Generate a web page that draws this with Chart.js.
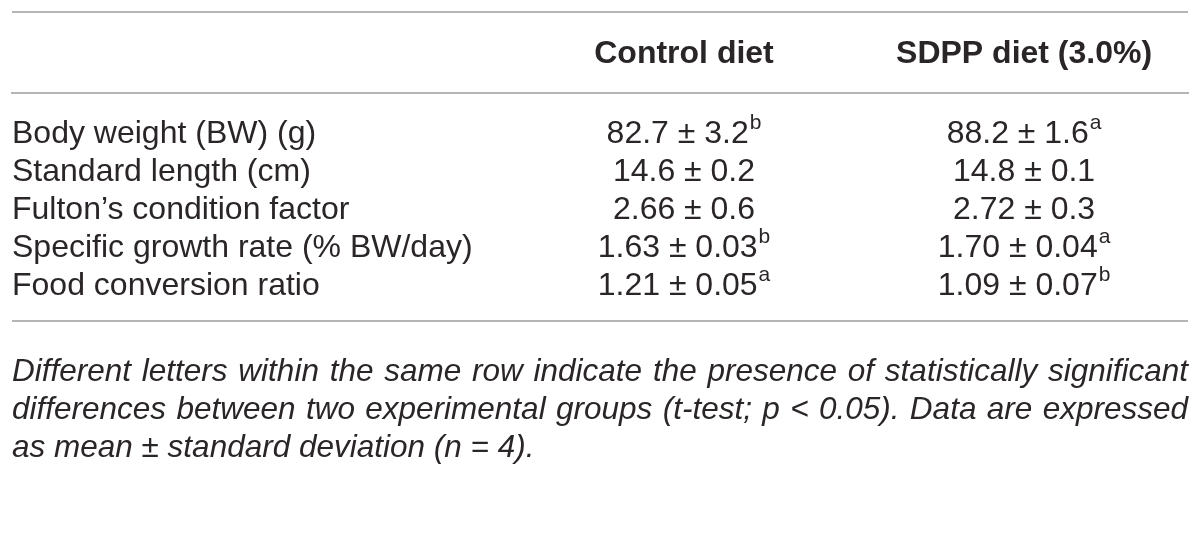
<!DOCTYPE html>
<html>
<head>
<meta charset="utf-8">
<title>Growth performance table</title>
<script src="https://cdn.jsdelivr.net/npm/chart.js@4/dist/chart.umd.min.js"></script>
<style>
    html, body { margin: 0; padding: 0; background: #ffffff; }
    #wrap { width: 1200px; height: 538px; position: relative; }
</style>
</head>
<body>
<div id="wrap"><canvas id="tableChart"></canvas></div>
<script>
// Données du tableau
const rowLabels = [
    'Body weight (BW) (g)',
    'Standard length (cm)',
    'Fulton\u2019s condition factor',
    'Specific growth rate (% BW/day)',
    'Food conversion ratio'
];
const groupLabels = ['Control diet', 'SDPP diet (3.0%)'];

const controlMean = [82.7, 14.6, 2.66, 1.63, 1.21];
const controlSd = [3.2, 0.2, 0.6, 0.03, 0.05];
const controlLetters = ['b', '', '', 'b', 'a'];

const sdppMean = [88.2, 14.8, 2.72, 1.70, 1.09];
const sdppSd = [1.6, 0.1, 0.3, 0.04, 0.07];
const sdppLetters = ['a', '', '', 'a', 'b'];

// nombre de décimales par ligne
const meanDecimals = [1, 1, 2, 2, 2];
const sdDecimals = [1, 1, 1, 2, 2];

const footnoteLines = [
    'Different letters within the same row indicate the presence of statistically significant',
    'differences between two experimental groups (t-test; p < 0.05). Data are expressed',
    'as mean \u00b1 standard deviation (n = 4).'
];

const TEXT_COLOR = '#2a2627';
const RULE_COLOR = '#b5b5b5';
const FONT = '"Liberation Sans", Arial, Helvetica, sans-serif';

function cellText(mean, sd, i) {
    return mean.toFixed(meanDecimals[i]) + ' \u00b1 ' + sd.toFixed(sdDecimals[i]);
}

function buildPoints(groupIndex) {
    return rowLabels.map((_, i) => ({ x: groupIndex + 1, y: i }));
}

// Plugin : texte des cellules, filets et note de bas de tableau
const tablePlugin = {
    id: 'tablePlugin',
    afterDatasetsDraw(chart) {
        const ctx = chart.ctx;
        const groups = [
            { mean: controlMean, sd: controlSd, letters: controlLetters },
            { mean: sdppMean, sd: sdppSd, letters: sdppLetters }
        ];
        ctx.save();
        ctx.fillStyle = TEXT_COLOR;
        ctx.textBaseline = 'middle';
        ctx.textAlign = 'left';
        groups.forEach((g, d) => {
            const meta = chart.getDatasetMeta(d);
            meta.data.forEach((pt, i) => {
                const main = cellText(g.mean[i], g.sd[i], i);
                const sup = g.letters[i];
                ctx.font = '32px ' + FONT;
                const wMain = ctx.measureText(main).width;
                ctx.font = '21px ' + FONT;
                const wSup = sup ? ctx.measureText(sup).width + 1 : 0;
                const x0 = pt.x - (wMain + wSup) / 2;
                ctx.font = '32px ' + FONT;
                ctx.fillText(main, x0, pt.y);
                if (sup) {
                    ctx.font = '21px ' + FONT;
                    ctx.fillText(sup, x0 + wMain + 1, pt.y - 11);
                }
            });
        });
        ctx.restore();
    },
    afterDraw(chart) {
        const ctx = chart.ctx;
        const area = chart.chartArea;
        ctx.save();
        // filets haut et bas
        ctx.strokeStyle = RULE_COLOR;
        ctx.lineWidth = 2;
        ctx.beginPath();
        ctx.moveTo(area.left, 12);
        ctx.lineTo(area.right, 12);
        ctx.moveTo(area.left, area.bottom);
        ctx.lineTo(area.right, area.bottom);
        ctx.stroke();

        // note de bas de tableau, justifiée sauf la dernière ligne
        ctx.fillStyle = TEXT_COLOR;
        ctx.font = 'italic 31.5px ' + FONT;
        ctx.textBaseline = 'middle';
        ctx.textAlign = 'left';
        const width = area.right - area.left;
        footnoteLines.forEach((line, i) => {
            const y = area.bottom + 51 + i * 38;
            if (i === footnoteLines.length - 1) {
                ctx.fillText(line, area.left, y);
                return;
            }
            const words = line.split(' ');
            const wordsWidth = words.reduce((s, w) => s + ctx.measureText(w).width, 0);
            const gap = (width - wordsWidth) / (words.length - 1);
            let x = area.left;
            words.forEach(w => {
                ctx.fillText(w, x, y);
                x += ctx.measureText(w).width + gap;
            });
        });
        ctx.restore();
    }
};

document.addEventListener('DOMContentLoaded', function() {
    const canvas = document.getElementById('tableChart');
    if (!canvas) {
        console.error('Canvas introuvable');
        return;
    }
    new Chart(canvas.getContext('2d'), {
        type: 'scatter',
        data: {
            datasets: groupLabels.map((label, d) => ({
                label: label,
                data: buildPoints(d),
                pointRadius: 0,
                pointHoverRadius: 0
            }))
        },
        options: {
            responsive: true,
            maintainAspectRatio: false,
            animation: false,
            events: [],
            layout: { padding: { top: 12, left: 12, right: 12, bottom: 217 } },
            plugins: {
                legend: { display: false },
                tooltip: { enabled: false }
            },
            scales: {
                x: {
                    type: 'linear',
                    position: 'top',
                    min: -0.976,
                    max: 2.482,
                    afterBuildTicks: function(scale) {
                        scale.ticks = groupLabels.map((_, i) => ({ value: i + 1 }));
                    },
                    afterFit: function(scale) {
                        scale.height = 81;
                    },
                    grid: { display: false },
                    border: { display: true, color: RULE_COLOR, width: 2 },
                    ticks: {
                        padding: 12,
                        maxRotation: 0,
                        autoSkip: false,
                        color: TEXT_COLOR,
                        font: { family: FONT, size: 32, weight: 'bold', lineHeight: 1.2 },
                        callback: function(value) {
                            return groupLabels[value - 1] || '';
                        }
                    }
                },
                y: {
                    type: 'linear',
                    position: 'left',
                    reverse: true,
                    min: -1.079,
                    max: 4.921,
                    afterBuildTicks: function(scale) {
                        scale.ticks = rowLabels.map((_, i) => ({ value: i }));
                    },
                    afterFit: function(scale) {
                        scale.width = 0;
                    },
                    grid: { display: false },
                    border: { display: false },
                    ticks: {
                        mirror: true,
                        padding: 0,
                        autoSkip: false,
                        color: TEXT_COLOR,
                        font: { family: FONT, size: 32, lineHeight: 1.2 },
                        callback: function(value) {
                            return rowLabels[value] || '';
                        }
                    }
                }
            }
        },
        plugins: [tablePlugin]
    });
});
</script>
</body>
</html>
